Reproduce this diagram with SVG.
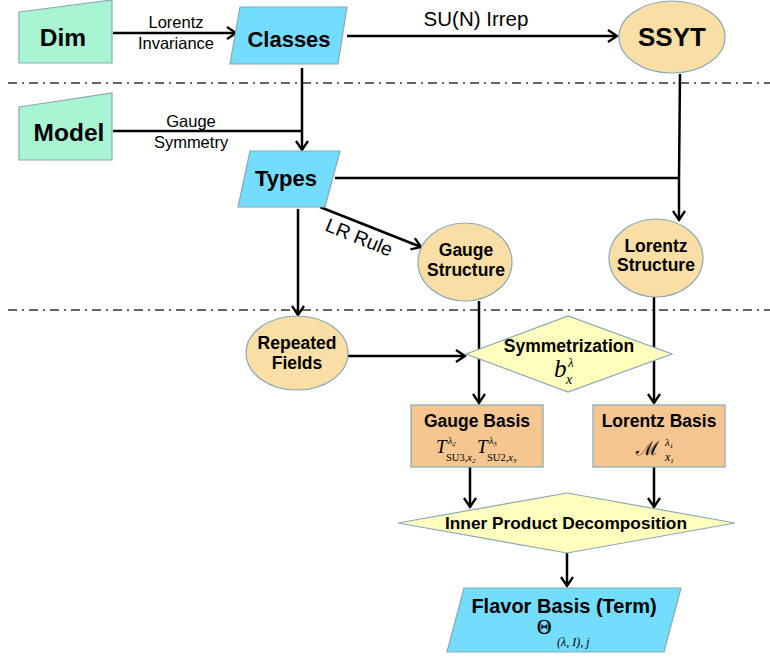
<svg xmlns="http://www.w3.org/2000/svg" width="770" height="657" viewBox="0 0 770 657">
<style>
.sh{stroke:#8aa8b4;stroke-width:1.2}
.gr{fill:#a9f5d3}
.bl{fill:#74dcfd}
.or{fill:#f9dfa6}
.ye{fill:#ffffbe}
.rc{fill:#f5c690}
.t{font-family:"Liberation Sans",Arial,sans-serif;font-weight:bold;fill:#000;text-anchor:middle}
.e{font-family:"Liberation Sans",Arial,sans-serif;fill:#000;text-anchor:middle}
.m{font-family:"Liberation Serif","Times New Roman",serif;font-style:italic;fill:#000}
.u{font-family:"Liberation Serif","Times New Roman",serif;font-style:normal;fill:#000}
.c{fill:none;stroke:#000;stroke-width:2.5}
.dd{fill:none;stroke:#333;stroke-width:1.5;stroke-dasharray:9 5 2 5}
</style>
<defs>
<marker id="ar" markerWidth="14" markerHeight="14" refX="10" refY="7" orient="auto" markerUnits="userSpaceOnUse">
<path d="M1,1 L10,7 L1,13" fill="none" stroke="#000" stroke-width="2.3"/>
</marker>
</defs>

<g id="separators">
<line class="dd" x1="8" y1="83" x2="770" y2="83"/>
<line class="dd" x1="8" y1="310" x2="770" y2="310"/>
</g>

<g id="connectors">
<line class="c" x1="113" y1="33" x2="236" y2="33" marker-end="url(#ar)"/>
<line class="c" x1="347" y1="36" x2="617" y2="36" marker-end="url(#ar)"/>
<polyline class="c" points="113,131 302,131"/>
<line class="c" x1="302" y1="68" x2="302" y2="150" marker-end="url(#ar)"/>
<polyline class="c" points="335,178 679,178"/>
<polyline class="c" points="680,74 679,178 679,220" marker-end="url(#ar)"/>
<line class="c" x1="320" y1="207" x2="421" y2="247" marker-end="url(#ar)"/>
<line class="c" x1="298" y1="209" x2="298" y2="315" marker-end="url(#ar)"/>
<line class="c" x1="348" y1="356" x2="465" y2="356" marker-end="url(#ar)"/>
<line class="c" x1="479" y1="301" x2="479" y2="403" marker-end="url(#ar)"/>
<line class="c" x1="654" y1="297" x2="654" y2="403" marker-end="url(#ar)"/>
<line class="c" x1="470" y1="467" x2="470" y2="507" marker-end="url(#ar)"/>
<line class="c" x1="654" y1="467" x2="654" y2="507" marker-end="url(#ar)"/>
<line class="c" x1="567" y1="553" x2="567" y2="586" marker-end="url(#ar)"/>
<text class="e" x="176" y="28" font-size="16.5">Lorentz</text>
<text class="e" x="176" y="49" font-size="16.5">Invariance</text>
<text class="e" x="476" y="26" font-size="20.5">SU(N) Irrep</text>
<text class="e" x="191" y="127" font-size="16.5">Gauge</text>
<text class="e" x="191" y="148" font-size="16.5">Symmetry</text>
<text class="e" x="359" y="244" font-size="19.5" transform="rotate(22 359 238)">LR Rule</text>
</g>

<g id="dim">
<path class="sh gr" d="M19,12 L112,0 L112,63 L19,63 Z"/>
<text class="t" x="63" y="46" font-size="24.5">Dim</text>
</g>

<g id="model">
<path class="sh gr" d="M19,107 L112,93 L112,160 L19,160 Z"/>
<text class="t" x="69" y="141" font-size="24.5">Model</text>
</g>

<g id="classes">
<path class="sh bl" d="M240,7 L347,7 L338,64 L230,64 Z"/>
<text class="t" x="289" y="47" font-size="22">Classes</text>
</g>

<g id="ssyt">
<ellipse class="sh or" cx="672" cy="37" rx="53" ry="36"/>
<text class="t" x="672" y="46" font-size="26">SSYT</text>
</g>

<g id="types">
<path class="sh bl" d="M250,151 L340,151 L325,207 L238,207 Z"/>
<text class="t" x="286" y="186" font-size="22">Types</text>
</g>

<g id="gauge-structure">
<ellipse class="sh or" cx="465" cy="262" rx="47" ry="39"/>
<text class="t" x="466" y="256" font-size="17.5">Gauge</text>
<text class="t" x="466" y="276" font-size="17.5">Structure</text>
</g>

<g id="lorentz-structure">
<ellipse class="sh or" cx="656" cy="258" rx="47" ry="39"/>
<text class="t" x="656" y="252" font-size="17.5">Lorentz</text>
<text class="t" x="656" y="271" font-size="17.5">Structure</text>
</g>

<g id="repeated-fields">
<ellipse class="sh or" cx="297" cy="353" rx="51" ry="37"/>
<text class="t" x="297" y="349" font-size="17.5">Repeated</text>
<text class="t" x="297" y="369" font-size="17.5">Fields</text>
</g>

<g id="symmetrization">
<path class="sh ye" d="M466,354 L568,316 L672,354 L568,392 Z"/>
<text class="t" x="569" y="352" font-size="17.5">Symmetrization</text>
<text class="m" x="554" y="377" font-size="25">b</text>
<text class="m" x="566" y="384" font-size="14">x</text>
<text class="m" x="568" y="367" font-size="13">λ</text>
</g>

<g id="gauge-basis">
<rect class="sh rc" x="411" y="405" width="132" height="62"/>
<text class="t" x="477" y="427" font-size="17.5">Gauge Basis</text>
<text class="m" x="436" y="453" font-size="19">T</text>
<text class="m" x="448" y="444" font-size="10">λ<tspan font-size="7" dy="2">2</tspan></text>
<text class="u" x="446" y="461" font-size="10.5">SU3,<tspan font-style="italic">x</tspan><tspan font-style="italic" font-size="7" dy="2">2</tspan></text>
<text class="m" x="477" y="453" font-size="19">T</text>
<text class="m" x="489" y="444" font-size="10">λ<tspan font-size="7" dy="2">3</tspan></text>
<text class="u" x="487" y="461" font-size="10.5">SU2,<tspan font-style="italic">x</tspan><tspan font-style="italic" font-size="7" dy="2">3</tspan></text>
</g>

<g id="lorentz-basis">
<rect class="sh rc" x="593" y="405" width="132" height="62"/>
<text class="t" x="659" y="427" font-size="17.5">Lorentz Basis</text>
<text x="636" y="455" font-size="20" font-family="'DejaVu Serif','Noto Sans',serif" fill="#000">ℳ</text>
<text class="m" x="665" y="446" font-size="11">λ<tspan font-size="7" dy="2">1</tspan></text>
<text class="m" x="665" y="461" font-size="12">x<tspan font-size="7" dy="2">1</tspan></text>
</g>

<g id="inner-product">
<path class="sh ye" d="M398,523 L567,493 L735,523 L567,553 Z"/>
<text class="t" x="566" y="529" font-size="17.3">Inner Product Decomposition</text>
</g>

<g id="flavor-basis">
<path class="sh bl" d="M464,588 L681,588 L664,652 L447,652 Z"/>
<text class="t" x="564" y="613" font-size="20">Flavor Basis (Term)</text>
<text class="u" x="537" y="634" font-size="20" stroke="#000" stroke-width="0.4">Θ</text>
<text class="m" x="557" y="646" font-size="12">(λ, I), j</text>
</g>
</svg>
